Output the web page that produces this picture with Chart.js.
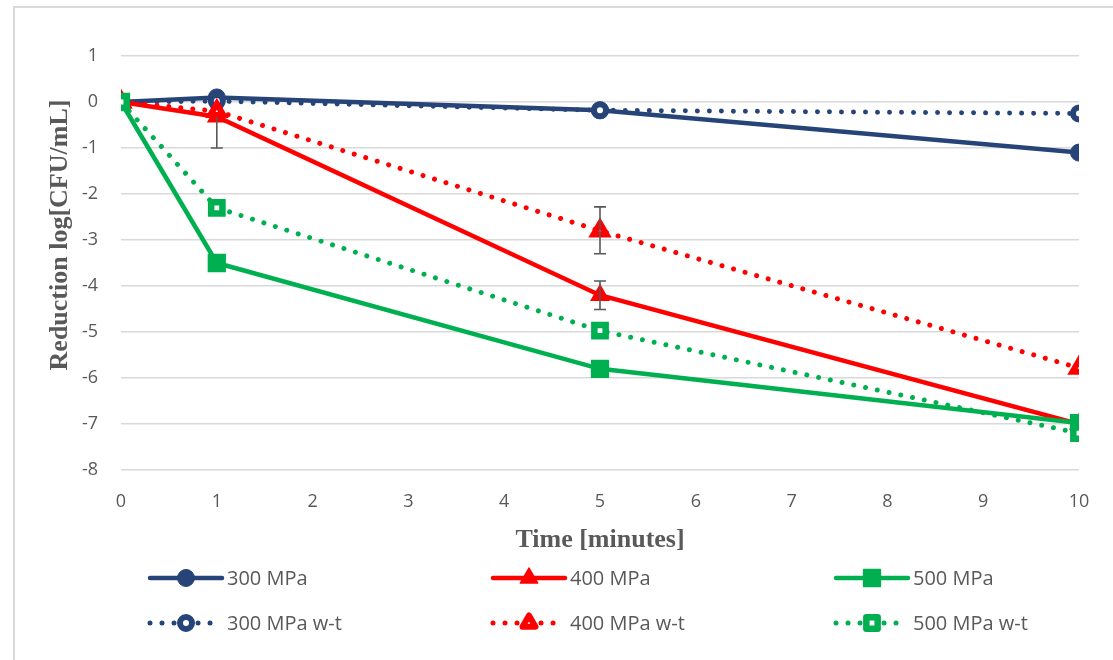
<!DOCTYPE html>
<html>
<head>
<meta charset="utf-8">
<script src="https://cdn.jsdelivr.net/npm/chart.js@4/dist/chart.umd.min.js"></script>
<style>
  html, body { margin: 0; padding: 0; background: #fff; }
  body { width: 1113px; height: 660px; position: relative; overflow: hidden; }
  #frame { position: absolute; left: 13px; top: 6px; width: 1200px; height: 700px;
           border-left: 2px solid #d9d9d9; border-top: 2px solid #d9d9d9; }
  canvas { position: absolute; left: 0; top: 0; }
</style>
</head>
<body>
<div id="frame"></div>
<canvas id="myChart" width="1113" height="660"></canvas>
<script>
const times = [0, 1, 5, 10];

const mpa300 = [0, 0.1, -0.18, -1.1];
const mpa400 = [0, -0.32, -4.2, -7.0];
const mpa500 = [0, -3.5, -5.8, -6.98];
const mpa300wt = [0, 0.02, -0.18, -0.25];
const mpa400wt = [0, -0.2, -2.8, -5.78];
const mpa500wt = [0, -2.3, -4.97, -7.2];

// error bars (only the ones drawn in the figure)
const err400Up = [0, 0, 0.31, 0];
const err400Down = [0, 0.68, 0.31, 0];
const err400wtUp = [0, 0, 0.52, 0];
const err400wtDown = [0, 0, 0.5, 0];

const labels = ["300 MPa", "400 MPa", "500 MPa", "300 MPa w-t", "400 MPa w-t", "500 MPa w-t"];
const yTitle = "Reduction log[CFU/mL]";
const xTitle = "Time [minutes]";

const blue = "#264478";
const red = "#ff0000";
const green = "#00b050";
const textColor = "#595959";
const dots = [0.01, 12];

const toPoints = (vals) => vals.map((v, i) => ({ x: times[i], y: v }));

const makeSet = (i, vals, color, style, radius, hollow, bw) => ({
  label: labels[i],
  data: toPoints(vals),
  borderColor: color,
  backgroundColor: color,
  borderWidth: hollow ? 5 : 4.5,
  borderDash: hollow ? dots : [],
  borderCapStyle: "round",
  pointStyle: style,
  pointRadius: radius,
  pointBorderWidth: bw,
  pointBackgroundColor: hollow ? "#fff" : color,
  pointBorderColor: color,
  order: 5 - i,
  tension: 0,
});

const datasets = [
  makeSet(0, mpa300, blue, "circle", 8.5, false, 1),
  makeSet(1, mpa400, red, "triangle", 10, false, 1.5),
  makeSet(2, mpa500, green, "rect", 11.5, false, 2),
  makeSet(3, mpa300wt, blue, "circle", 6, true, 6),
  makeSet(4, mpa400wt, red, "triangle", 7.5, true, 6),
  makeSet(5, mpa500wt, green, "rect", 8, true, 6.5),
];
datasets[1].errUp = err400Up;
datasets[1].errDown = err400Down;
datasets[4].errUp = err400wtUp;
datasets[4].errDown = err400wtDown;

const errorBars = {
  id: "errorBars",
  afterDatasetsDraw(chart) {
    const ctx = chart.ctx;
    const xs = chart.scales.x, ys = chart.scales.y;
    ctx.save();
    ctx.strokeStyle = "#595959";
    ctx.lineWidth = 1.6;
    chart.data.datasets.forEach((ds) => {
      if (!ds.errUp) return;
      ds.data.forEach((p, i) => {
        const up = ds.errUp[i], down = ds.errDown[i];
        if (!up && !down) return;
        const px = xs.getPixelForValue(p.x);
        const y1 = ys.getPixelForValue(p.y + up);
        const y2 = ys.getPixelForValue(p.y - down);
        ctx.beginPath();
        ctx.moveTo(px, y1); ctx.lineTo(px, y2);
        if (up) { ctx.moveTo(px - 6, y1); ctx.lineTo(px + 6, y1); }
        if (down) { ctx.moveTo(px - 6, y2); ctx.lineTo(px + 6, y2); }
        ctx.stroke();
      });
    });
    ctx.restore();
  },
};

function drawMarker(ctx, style, x, y, r, fill, stroke, lw) {
  ctx.beginPath();
  if (style === "circle") {
    ctx.arc(x, y, r, 0, Math.PI * 2);
  } else if (style === "triangle") {
    ctx.moveTo(x, y - r);
    ctx.lineTo(x + r * 0.866, y + r * 0.5);
    ctx.lineTo(x - r * 0.866, y + r * 0.5);
    ctx.closePath();
  } else {
    const s = r * Math.SQRT1_2;
    ctx.rect(x - s, y - s, 2 * s, 2 * s);
  }
  ctx.fillStyle = fill;
  ctx.fill();
  ctx.lineWidth = lw;
  ctx.strokeStyle = stroke;
  ctx.lineJoin = "round";
  ctx.setLineDash([]);
  ctx.stroke();
}

// y axis title sits a bit above the plot middle in the original
const yTitlePlugin = {
  id: "yTitlePlugin",
  afterDraw(chart) {
    const ctx = chart.ctx;
    ctx.save();
    ctx.translate(60, 235);
    ctx.rotate(-Math.PI / 2);
    ctx.fillStyle = textColor;
    ctx.font = "bold 26px 'Liberation Serif'";
    ctx.textAlign = "center";
    ctx.textBaseline = "middle";
    ctx.fillText(yTitle, 0, 0);
    ctx.restore();
  },
};

// legend drawn in 3 columns x 2 rows like the original
const legendGrid = {
  id: "legendGrid",
  afterDraw(chart) {
    const ctx = chart.ctx;
    const colX = [150, 493, 836];
    const rowY = [578, 623];
    ctx.save();
    chart.data.datasets.forEach((ds, i) => {
      const x0 = colX[i % 3];
      const y = rowY[Math.floor(i / 3)];
      ctx.beginPath();
      ctx.setLineDash(ds.borderDash);
      ctx.lineCap = "round";
      ctx.lineWidth = ds.borderWidth;
      ctx.strokeStyle = ds.borderColor;
      ctx.moveTo(x0, y);
      ctx.lineTo(x0 + 72, y);
      ctx.stroke();
      drawMarker(ctx, ds.pointStyle, x0 + 36, y, ds.pointRadius, ds.pointBackgroundColor, ds.pointBorderColor, ds.pointBorderWidth);
      ctx.fillStyle = textColor;
      ctx.font = "20px 'Open Sans'";
      ctx.textBaseline = "middle";
      ctx.textAlign = "left";
      ctx.fillText(ds.label, x0 + 77, y + 1);
    });
    ctx.restore();
  },
};

const ctx = document.getElementById("myChart").getContext("2d");
const myChart = new Chart(ctx, {
  type: "line",
  data: { datasets: datasets },
  options: {
    responsive: false,
    animation: false,
    layout: { padding: { left: 0, right: 34, top: 56, bottom: 80 } },
    plugins: { legend: { display: false }, tooltip: { enabled: false } },
    scales: {
      x: {
        type: "linear",
        min: 0,
        max: 10,
        ticks: { stepSize: 1, color: textColor, font: { family: "Open Sans", size: 18 }, padding: 21 },
        grid: { display: false, drawTicks: false },
        border: { display: false },
        title: {
          display: true,
          text: xTitle,
          color: textColor,
          font: { family: "Liberation Serif", size: 26, weight: "bold" },
          padding: { top: 24, bottom: 24 },
        },
        afterFit: (s) => { s.height = 110; },
      },
      y: {
        min: -8,
        max: 1,
        ticks: { stepSize: 1, color: textColor, font: { family: "Open Sans", size: 18 }, padding: 23 },
        grid: { color: "#d9d9d9", lineWidth: 1.5, drawTicks: false },
        border: { display: false },
        afterFit: (s) => { s.width = 121; },
      },
    },
  },
  plugins: [errorBars, yTitlePlugin, legendGrid],
});
</script>
</body>
</html>
